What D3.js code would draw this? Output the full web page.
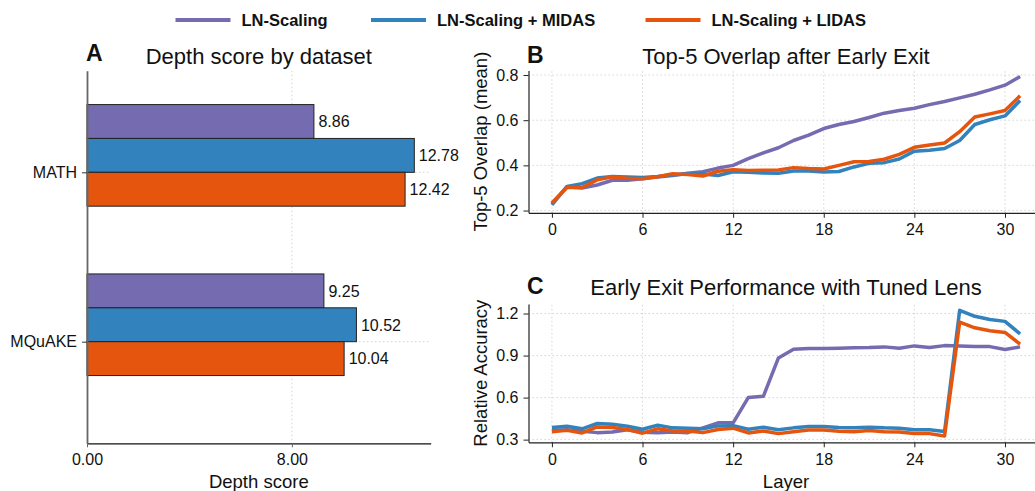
<!DOCTYPE html>
<html><head><meta charset="utf-8">
<script src="https://cdn.jsdelivr.net/npm/d3@7"></script>
<style>
body{margin:0;background:#fff;}
svg text{font-family:"Liberation Sans",Arial,sans-serif;fill:#111;}
</style></head>
<body><svg id="c" width="1035" height="491"></svg>
<script>
// ---------- data ----------
const seriesNames = ["LN-Scaling", "LN-Scaling + MIDAS", "LN-Scaling + LIDAS"];
const seriesColors = ["#756bb1", "#3182bd", "#e6550d"];
const datasets = ["MATH", "MQuAKE"];
const depthLN    = [8.86, 9.25];
const depthMIDAS = [12.78, 10.52];
const depthLIDAS = [12.42, 10.04];
const depthTicks = [0, 8];

const layers = d3.range(0, 32);
const overlapLN = [0.231,0.305,0.300,0.313,0.334,0.334,0.341,0.349,0.355,0.365,0.372,0.388,0.400,0.430,0.455,0.478,0.510,0.534,0.563,0.581,0.594,0.612,0.631,0.643,0.653,0.669,0.683,0.699,0.715,0.734,0.755,0.793];
const overlapMIDAS = [0.225,0.307,0.319,0.344,0.351,0.348,0.346,0.351,0.359,0.362,0.362,0.355,0.372,0.369,0.366,0.365,0.375,0.375,0.371,0.373,0.393,0.409,0.412,0.428,0.463,0.467,0.475,0.510,0.581,0.602,0.619,0.687];
const overlapLIDAS = [0.234,0.302,0.302,0.336,0.349,0.343,0.341,0.350,0.363,0.359,0.353,0.374,0.381,0.377,0.378,0.380,0.390,0.386,0.384,0.400,0.416,0.417,0.427,0.449,0.480,0.490,0.499,0.549,0.614,0.628,0.643,0.708];

const accLN = [0.367,0.370,0.360,0.350,0.355,0.370,0.352,0.350,0.355,0.350,0.384,0.420,0.420,0.600,0.609,0.883,0.945,0.950,0.950,0.952,0.955,0.957,0.962,0.952,0.969,0.957,0.971,0.969,0.964,0.964,0.943,0.962];
const accMIDAS = [0.386,0.396,0.377,0.415,0.410,0.396,0.374,0.403,0.384,0.382,0.377,0.398,0.400,0.374,0.389,0.370,0.384,0.393,0.393,0.386,0.384,0.389,0.384,0.382,0.370,0.370,0.358,1.223,1.180,1.158,1.144,1.055];
const accLIDAS = [0.357,0.367,0.348,0.391,0.386,0.372,0.346,0.377,0.362,0.362,0.350,0.372,0.382,0.348,0.362,0.343,0.357,0.369,0.369,0.360,0.357,0.365,0.357,0.355,0.343,0.343,0.326,1.139,1.098,1.077,1.065,0.981];

const layerTicks = [0, 6, 12, 18, 24, 30];
const overlapTicks = [0.2, 0.4, 0.6, 0.8];
const accTicks = [0.3, 0.6, 0.9, 1.2];

// ---------- drawing ----------
const svg = d3.select("#c");
const gridStyle = s => s.attr("stroke", "#d4d4d4").attr("stroke-width", 1).attr("stroke-dasharray", "1.5,2.5");

// Legend
const legX = [175.5, 371, 645.5];
seriesNames.forEach((n, i) => {
  svg.append("line").attr("x1", legX[i]).attr("x2", legX[i] + 55).attr("y1", 20).attr("y2", 20)
    .attr("stroke", seriesColors[i]).attr("stroke-width", 4);
  svg.append("text").attr("x", legX[i] + 66).attr("y", 26).attr("font-size", 16.5).attr("font-weight", "bold").text(n);
});

// ---------- Panel A ----------
(function(){
  const x = d3.scaleLinear().domain([0, 13.42]).range([87, 430.7]);
  const y = d3.scaleLinear().domain([-0.6, 1.6]).range([70.7, 443.3]);
  const g = svg.append("g");
  // grid
  depthTicks.filter(t => t > 0).forEach(t => g.append("line").attr("x1", x(t)).attr("x2", x(t)).attr("y1", y(-0.6)).attr("y2", y(1.6)).call(gridStyle));
  datasets.forEach((d, i) => g.append("line").attr("x1", x(0)).attr("x2", x(13.42)).attr("y1", y(i)).attr("y2", y(i)).call(gridStyle));
  const vals = [depthLN, depthMIDAS, depthLIDAS];
  const h = 0.2;
  vals.forEach((arr, j) => {
    arr.forEach((v, i) => {
      const c = i + (j - 1.5) * h;
      g.append("rect").attr("x", x(0)).attr("y", y(c - h/2)).attr("width", x(v) - x(0)).attr("height", y(c + h/2) - y(c - h/2))
        .attr("fill", seriesColors[j]).attr("stroke", "#222").attr("stroke-width", 1);
      g.append("text").attr("x", x(v) + 4.5).attr("y", y(c)).attr("dy", "0.36em").attr("font-size", 16).text(v.toFixed(2));
    });
  });
  // axes
  const xa = g.append("g").attr("transform", `translate(0,${y(1.6)})`)
    .call(d3.axisBottom(x).tickValues(depthTicks).tickFormat(d3.format(".2f")).tickSize(4).tickPadding(6).tickSizeOuter(0));
  xa.select(".domain").attr("stroke", "#111").attr("stroke-width", 1.2);
  xa.selectAll(".tick line").attr("stroke", "#666");
  xa.selectAll("text").attr("font-size", 16).attr("font-family", null).attr("fill", "#111");
  const ya = g.append("g").attr("transform", `translate(${x(0)},0)`)
    .call(d3.axisLeft(y).tickValues([0, 1]).tickFormat(i => datasets[i]).tickSize(5).tickPadding(5).tickSizeOuter(0));
  ya.select(".domain").attr("stroke", "#666").attr("stroke-width", 1.8);
  ya.selectAll(".tick line").attr("stroke", "#333");
  ya.selectAll("text").attr("font-size", 16).attr("font-family", null).attr("fill", "#111");
  svg.append("text").attr("x", 258.8).attr("y", 488).attr("text-anchor", "middle").attr("font-size", 18.5).text("Depth score");
  svg.append("text").attr("x", 258.8).attr("y", 64).attr("text-anchor", "middle").attr("font-size", 22).text("Depth score by dataset");
  svg.append("text").attr("x", 86).attr("y", 61).attr("font-size", 23).attr("font-weight", "bold").text("A");
})();

// ---------- line panels ----------
function linePanel(opts){
  const x = d3.scaleLinear().domain([-1.55, 32.55]).range([528.5, 1043.5]);
  const y = d3.scaleLinear().domain(opts.yDomain).range(opts.yRange);
  const g = svg.append("g");
  layerTicks.forEach(t => g.append("line").attr("x1", x(t)).attr("x2", x(t)).attr("y1", opts.yRange[0]).attr("y2", opts.yRange[1]).call(gridStyle));
  opts.yTicks.forEach(t => g.append("line").attr("x1", x(-1.55)).attr("x2", x(32.55)).attr("y1", y(t)).attr("y2", y(t)).call(gridStyle));
  const line = d3.line().x((d, i) => x(layers[i])).y(d => y(d));
  opts.series.forEach((s, j) => {
    g.append("path").datum(s).attr("d", line).attr("fill", "none").attr("stroke", seriesColors[j])
      .attr("stroke-width", 3.5).attr("stroke-linejoin", "round").attr("stroke-linecap", "butt");
  });
  const xa = g.append("g").attr("transform", `translate(0,${opts.yRange[0]})`)
    .call(d3.axisBottom(x).tickValues(layerTicks).tickSize(5).tickPadding(6).tickSizeOuter(0));
  xa.select(".domain").attr("stroke", "#222").attr("stroke-width", 1.2);
  xa.selectAll(".tick line").attr("stroke", "#222");
  xa.selectAll("text").attr("font-size", 16).attr("font-family", null).attr("fill", "#111");
  const ya = g.append("g").attr("transform", `translate(${x(-1.55)},0)`)
    .call(d3.axisLeft(y).tickValues(opts.yTicks).tickFormat(d3.format(".1f")).tickSize(5).tickPadding(5).tickSizeOuter(0));
  ya.select(".domain").attr("stroke", "#222").attr("stroke-width", 1.2);
  ya.selectAll(".tick line").attr("stroke", "#222");
  ya.selectAll("text").attr("font-size", 16).attr("font-family", null).attr("fill", "#111");
  const cy = (opts.yRange[0] + opts.yRange[1]) / 2;
  svg.append("text").attr("transform", `translate(487,${cy}) rotate(-90)`).attr("text-anchor", "middle").attr("font-size", 18.5).text(opts.yLabel);
  svg.append("text").attr("x", 786).attr("y", opts.titleY).attr("text-anchor", "middle").attr("font-size", 22).text(opts.title);
  svg.append("text").attr("x", 527).attr("y", opts.titleY - 1).attr("font-size", 23).attr("font-weight", "bold").text(opts.letter);
  if (opts.xLabel) svg.append("text").attr("x", 786).attr("y", 488).attr("text-anchor", "middle").attr("font-size", 18.5).text(opts.xLabel);
}

linePanel({yDomain: [0.19, 0.82], yRange: [212.8, 70.5], yTicks: overlapTicks,
  series: [overlapLN, overlapMIDAS, overlapLIDAS], yLabel: "Top-5 Overlap (mean)",
  title: "Top-5 Overlap after Early Exit", titleY: 64, letter: "B"});
linePanel({yDomain: [0.281, 1.268], yRange: [442.3, 304], yTicks: accTicks,
  series: [accLN, accMIDAS, accLIDAS], yLabel: "Relative Accuracy",
  title: "Early Exit Performance with Tuned Lens", titleY: 295, letter: "C", xLabel: "Layer"});
</script></body></html>
